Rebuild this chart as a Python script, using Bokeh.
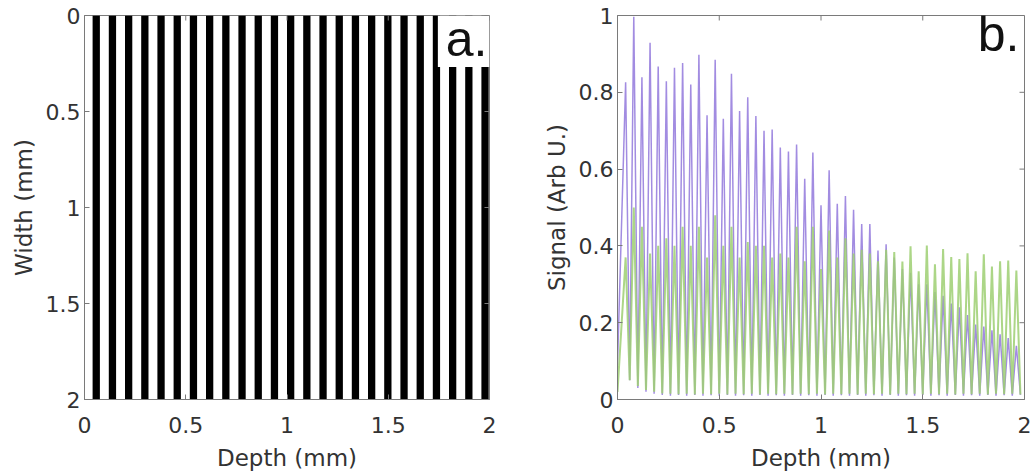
import math
from bokeh.plotting import figure
from bokeh.layouts import row
from bokeh.models import Range1d, FixedTicker, CustomJSTickFormatter, Label
from bokeh.embed import file_html
from bokeh.resources import INLINE

# ---------------- data ----------------
# panel a: black stripes of the grating (depth, mm)
stripe_left = [0.04, 0.12, 0.2, 0.28, 0.36, 0.44, 0.52, 0.6, 0.68, 0.76, 0.84, 0.92, 1.0,
               1.08, 1.16, 1.24, 1.32, 1.4, 1.48, 1.56, 1.64, 1.72, 1.8, 1.88, 1.96]
stripe_right = [0.076, 0.156, 0.236, 0.316, 0.396, 0.476, 0.556, 0.636, 0.716, 0.796, 0.876,
                0.956, 1.036, 1.116, 1.196, 1.276, 1.356, 1.436, 1.516, 1.596, 1.676, 1.756,
                1.836, 1.916, 1.996]
width_extent = [0.0, 2.0]

# panel b: signal peaks and valleys
peak_depth = [0.04, 0.08, 0.12, 0.16, 0.2, 0.24, 0.28, 0.32, 0.36, 0.4, 0.44, 0.48, 0.52, 0.56,
              0.6, 0.64, 0.68, 0.72, 0.76, 0.8, 0.84, 0.88, 0.92, 0.96, 1.0, 1.04, 1.08, 1.12,
              1.16, 1.2, 1.24, 1.28, 1.32, 1.36, 1.4, 1.44, 1.48, 1.52, 1.56, 1.6, 1.64, 1.68,
              1.72, 1.76, 1.8, 1.84, 1.88, 1.92, 1.96]
valley_depth = [0.0, 0.06, 0.1, 0.14, 0.18, 0.22, 0.26, 0.3, 0.34, 0.38, 0.42, 0.46, 0.5, 0.54,
                0.58, 0.62, 0.66, 0.7, 0.74, 0.78, 0.82, 0.86, 0.9, 0.94, 0.98, 1.02, 1.06, 1.1,
                1.14, 1.18, 1.22, 1.26, 1.3, 1.34, 1.38, 1.42, 1.46, 1.5, 1.54, 1.58, 1.62, 1.66,
                1.7, 1.74, 1.78, 1.82, 1.86, 1.9, 1.94, 1.98]
purple_peak = [0.826, 0.997, 0.839, 0.929, 0.867, 0.829, 0.864, 0.876, 0.82, 0.898, 0.74, 0.885,
               0.731, 0.848, 0.751, 0.787, 0.738, 0.7, 0.703, 0.656, 0.646, 0.664, 0.575, 0.643,
               0.506, 0.597, 0.51, 0.53, 0.494, 0.457, 0.457, 0.388, 0.404, 0.37, 0.34, 0.33,
               0.3, 0.3, 0.28, 0.27, 0.25, 0.24, 0.22, 0.195, 0.19, 0.18, 0.17, 0.16, 0.14]
green_peak = [0.37, 0.5, 0.45, 0.38, 0.4, 0.42, 0.4, 0.45, 0.4, 0.45, 0.37, 0.48, 0.4, 0.45,
              0.37, 0.41, 0.4, 0.4, 0.37, 0.38, 0.37, 0.45, 0.36, 0.45, 0.34, 0.44, 0.37, 0.42,
              0.38, 0.39, 0.38, 0.36, 0.39, 0.384, 0.359, 0.399, 0.334, 0.401, 0.352, 0.392,
              0.371, 0.366, 0.381, 0.334, 0.378, 0.346, 0.36, 0.362, 0.336]
purple_valley = [0.09, 0.05, 0.03, 0.02, 0.015, 0.012, 0.01, 0.012, 0.01, 0.012, 0.01, 0.011,
                 0.01, 0.012, 0.01, 0.011, 0.01, 0.012, 0.01, 0.011, 0.01, 0.012, 0.01, 0.011,
                 0.01, 0.012, 0.01, 0.011, 0.01, 0.012, 0.01, 0.011, 0.01, 0.012, 0.01, 0.011,
                 0.01, 0.012, 0.01, 0.011, 0.01, 0.012, 0.01, 0.011, 0.01, 0.012, 0.01, 0.011,
                 0.01, 0.012]
green_valley = [0.02, 0.05, 0.035, 0.025, 0.02, 0.016, 0.015, 0.014, 0.015, 0.013, 0.015, 0.014,
                0.015, 0.013, 0.015, 0.014, 0.015, 0.013, 0.015, 0.014, 0.015, 0.013, 0.015,
                0.014, 0.015, 0.013, 0.015, 0.014, 0.015, 0.013, 0.015, 0.014, 0.015, 0.013,
                0.015, 0.014, 0.015, 0.013, 0.015, 0.014, 0.015, 0.013, 0.015, 0.014, 0.015,
                0.013, 0.015, 0.014, 0.015, 0.013]

axis_ticks = [0, 0.5, 1, 1.5, 2]
signal_ticks = [0, 0.2, 0.4, 0.6, 0.8, 1]


def interleave(valleys_x, valleys_y, peaks_x, peaks_y):
    xs, ys = [], []
    for i in range(len(peaks_x)):
        xs += [valleys_x[i], peaks_x[i]]
        ys += [valleys_y[i], peaks_y[i]]
    xs.append(valleys_x[-1])
    ys.append(valleys_y[-1])
    return xs, ys


FONT = "DejaVu Sans"
TXT = "#333333"
FRAME = "#7a7a7a"


def style(p, xticks, yticks, xlabel, ylabel, ytop, xright):
    p.xgrid.grid_line_color = None
    p.ygrid.grid_line_color = None
    p.outline_line_color = FRAME
    p.outline_line_width = 1
    p.background_fill_color = "white"
    p.border_fill_color = "white"
    for ax, ticks, lab in ((p.xaxis[0], xticks, xlabel), (p.yaxis[0], yticks, ylabel)):
        ax.ticker = FixedTicker(ticks=ticks)
        ax.formatter = CustomJSTickFormatter(code="return tick.toString();")
        ax.axis_label = lab
        ax.axis_label_text_font = FONT
        ax.axis_label_text_font_size = "23px"
        ax.axis_label_text_font_style = "normal"
        ax.axis_label_text_color = TXT
        ax.major_label_text_font = FONT
        ax.major_label_text_font_size = "22px"
        ax.major_label_text_color = TXT
        ax.axis_line_color = FRAME
        ax.major_tick_line_color = FRAME
        ax.major_tick_in = 5
        ax.major_tick_out = 0
        ax.minor_tick_line_color = None
    p.xaxis[0].major_label_standoff = 17
    p.xaxis[0].axis_label_standoff = 9
    p.yaxis[0].major_label_standoff = 4
    p.yaxis[0].axis_label_standoff = 6
    # inward tick marks on the top and right edges of the box
    p.ray(x=xticks, y=[ytop] * len(xticks), length=5, length_units="screen",
          angle=-math.pi / 2, line_color=FRAME, line_width=1)
    p.ray(x=[xright] * len(yticks), y=yticks, length=5, length_units="screen",
          angle=math.pi, line_color=FRAME, line_width=1)


# ---------------- panel a ----------------
pa = figure(width=540, height=476, min_border_left=84, min_border_right=51,
            min_border_top=15, min_border_bottom=77,
            x_range=Range1d(0, 2), y_range=Range1d(2, 0),
            output_backend="svg", toolbar_location=None)
pa.quad(left=stripe_left, right=stripe_right, top=width_extent[0], bottom=width_extent[1],
        fill_color="black", line_color=None)
pa.quad(left=[1.745], right=[2.0], top=[0.0], bottom=[0.268], fill_color="white", line_color=None)
pa.add_layout(Label(x=1.99, y=0.12, text="a.", text_align="right", text_baseline="alphabetic",
                    text_font="Liberation Sans", text_font_size="50px", text_color="#111111"))
style(pa, axis_ticks, axis_ticks, "Depth (mm)", "Width (mm)", 0.0, 2.0)

# ---------------- panel b ----------------
pb = figure(width=491, height=476, min_border_left=77, min_border_right=7,
            min_border_top=15, min_border_bottom=77,
            x_range=Range1d(0, 2), y_range=Range1d(0, 1),
            output_backend="svg", toolbar_location=None)
px, py = interleave(valley_depth, purple_valley, peak_depth, purple_peak)
gx, gy = interleave(valley_depth, green_valley, peak_depth, green_peak)
pb.line(px, py, line_color="#9278dc", line_width=1.5, line_alpha=0.85)
pb.line(gx, gy, line_color="#9dcf72", line_width=2.0, line_alpha=0.85)
pb.add_layout(Label(x=1.975, y=0.952, text="b.", text_align="right", text_baseline="alphabetic",
                    text_font="Liberation Sans", text_font_size="50px", text_color="#111111"))
style(pb, axis_ticks, signal_ticks, "Depth (mm)", "Signal (Arb U.)", 1.0, 2.0)

layout = row(pa, pb)
open("out.html", "w").write(file_html(layout, INLINE))
